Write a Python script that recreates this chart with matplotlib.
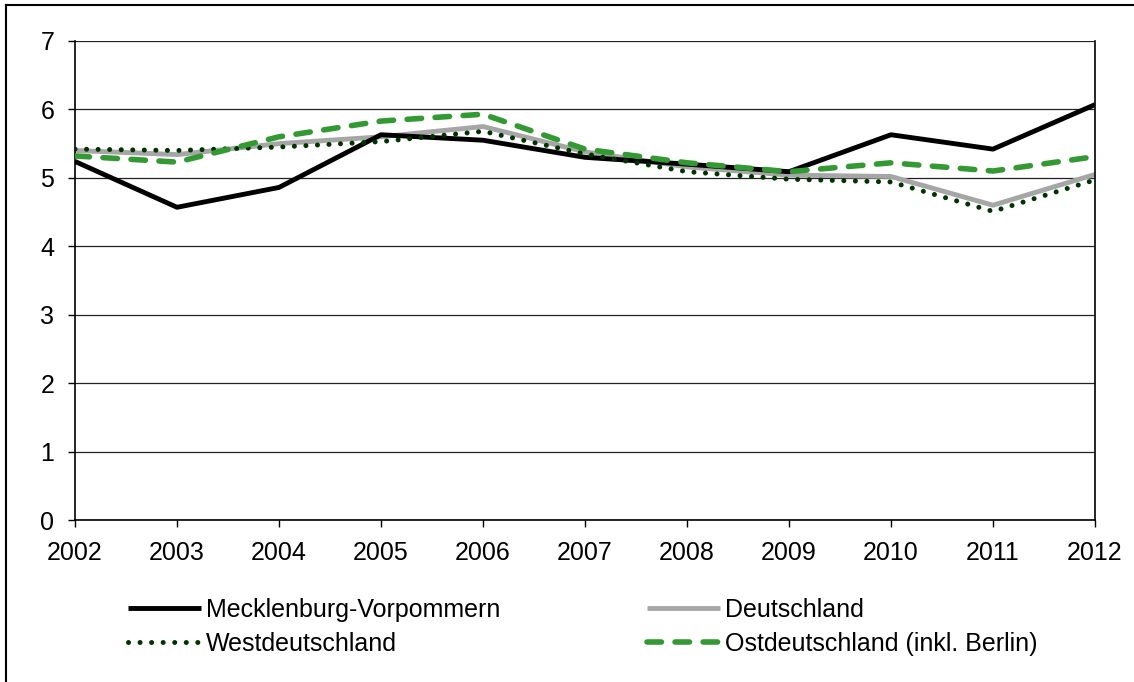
import matplotlib
matplotlib.use("Agg")
import matplotlib.pyplot as plt
from matplotlib.lines import Line2D

years = [2002, 2003, 2004, 2005, 2006, 2007, 2008, 2009, 2010, 2011, 2012]
mv = [5.24, 4.57, 4.86, 5.63, 5.55, 5.30, 5.20, 5.09, 5.63, 5.42, 6.07]
de = [5.40, 5.34, 5.50, 5.60, 5.75, 5.38, 5.16, 5.04, 5.02, 4.60, 5.05]
west = [5.42, 5.40, 5.45, 5.53, 5.68, 5.35, 5.09, 4.98, 4.94, 4.51, 4.97]
ost = [5.32, 5.23, 5.60, 5.83, 5.93, 5.42, 5.22, 5.09, 5.22, 5.10, 5.31]
labels = ["Mecklenburg-Vorpommern", "Deutschland", "Westdeutschland",
          "Ostdeutschland (inkl. Berlin)"]
yticks = [0, 1, 2, 3, 4, 5, 6, 7]

plt.rcParams['font.family'] = ['Liberation Sans', 'DejaVu Sans']
FS = 18

fig = plt.figure(figsize=(11.34, 6.82), dpi=100)
ax = fig.add_axes([75/1134, 1-520/682, (1095-75)/1134, (520-41)/682])

for y in yticks:
    ax.axhline(y, color='#222222', lw=0.9, zorder=1)

l1, = ax.plot(years, mv, color='black', lw=3.5, solid_capstyle='butt', zorder=3, label=labels[0])
l2, = ax.plot(years, de, color='#a6a6a6', lw=3.5, solid_capstyle='butt', zorder=2.5, label=labels[1])
l3, = ax.plot(years, west, color='#003300', lw=3.6, linestyle=(0, (0.01, 2.3)),
              dash_capstyle='round', zorder=4, label=labels[2])
l4, = ax.plot(years, ost, color='#339933', lw=4.0, linestyle=(0, (2.6, 2.45)),
              dash_capstyle='round', zorder=5, label=labels[3])

ax.set_xlim(2002, 2012)
ax.set_ylim(0, 7)
ax.set_xticks(years)
ax.set_yticks(yticks)
ax.tick_params(axis='both', direction='out', length=5, width=1, labelsize=FS, pad=10, color='black')
for s in ax.spines.values():
    s.set_color('black')
    s.set_linewidth(1.2)
ax.spines['top'].set_visible(False)

leg = fig.legend(handles=[l1, l3, l2, l4], loc='upper left', ncol=2,
                 bbox_to_anchor=(118/1134, 1-588/682), frameon=False,
                 fontsize=FS, handlelength=2.9, handletextpad=0.2,
                 columnspacing=5.9, labelspacing=0.4, borderaxespad=0)

# outer frame (left and top edges visible)
fig.add_artist(Line2D([6/1134, 6/1134], [0, 1-5/682], transform=fig.transFigure, color='black', lw=1.5))
fig.add_artist(Line2D([6/1134, 1], [1-5/682, 1-5/682], transform=fig.transFigure, color='black', lw=1.5))

fig.savefig('out.png', dpi=100)
